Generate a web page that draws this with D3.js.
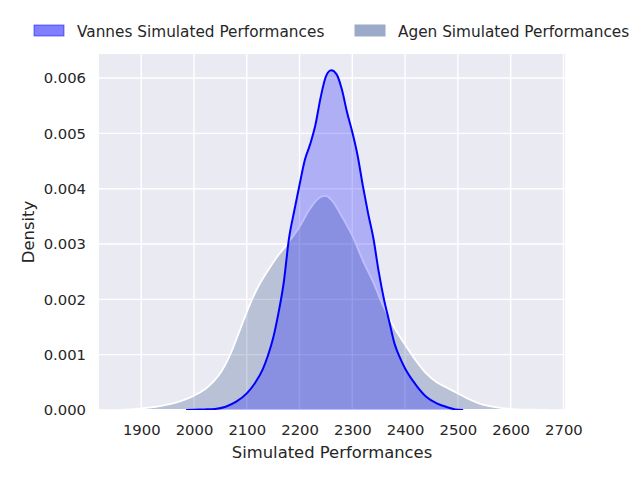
<!DOCTYPE html>
<html>
<head>
<meta charset="utf-8">
<script src="https://cdn.jsdelivr.net/npm/d3@7"></script>
<style>
  html, body { margin: 0; padding: 0; background: #ffffff; }
  svg { display: block; }
  text { font-family: "DejaVu Sans", sans-serif; fill: #262626; }
</style>
</head>
<body>
<script>
// ---- data ----
const agenX = [1860, 1880, 1900, 1920, 1940, 1960, 1980, 2000, 2020, 2030, 2040, 2050, 2060, 2070, 2080, 2090, 2100, 2110, 2120, 2140, 2160, 2180, 2200, 2220, 2240, 2250, 2260, 2280, 2300, 2320, 2340, 2360, 2380, 2400, 2420, 2440, 2460, 2480, 2500, 2520, 2540, 2560, 2580, 2600, 2640, 2670];
const agenY = [0, 0.00001, 0.00003, 0.00005, 0.00008, 0.00012, 0.00018, 0.00026, 0.00037, 0.00045, 0.00055, 0.00067, 0.00083, 0.00103, 0.00127, 0.00152, 0.00177, 0.002, 0.0022, 0.00252, 0.0028, 0.00304, 0.00331, 0.00364, 0.00385, 0.00387, 0.0038, 0.0035, 0.00315, 0.0027, 0.0023, 0.00185, 0.00148, 0.00118, 0.0009, 0.00066, 0.0005, 0.0004, 0.0003, 0.0002, 0.00012, 0.00007, 0.00004, 0.00002, 0.000005, 0];
const vannesX = [1985, 2000, 2020, 2040, 2060, 2080, 2100, 2115, 2130, 2140, 2150, 2160, 2170, 2180, 2190, 2200, 2210, 2220, 2230, 2240, 2250, 2260, 2270, 2280, 2290, 2300, 2310, 2320, 2330, 2340, 2350, 2360, 2370, 2380, 2390, 2400, 2420, 2440, 2460, 2480, 2495, 2510];
const vannesY = [0, 0.000005, 0.00001, 0.00002, 0.00006, 0.00015, 0.0003, 0.00048, 0.00073, 0.00098, 0.0013, 0.00175, 0.0023, 0.0031, 0.0036, 0.00407, 0.00452, 0.0048, 0.00515, 0.00565, 0.00603, 0.00614, 0.00607, 0.0058, 0.00538, 0.00502, 0.0046, 0.00405, 0.00355, 0.0031, 0.0025, 0.002, 0.0016, 0.0012, 0.00095, 0.00075, 0.00046, 0.00024, 0.00012, 0.00005, 0.00001, 0];
const xTicks = [1900, 2000, 2100, 2200, 2300, 2400, 2500, 2600, 2700];
const yTicks = [0, 0.001, 0.002, 0.003, 0.004, 0.005, 0.006];
const seriesNames = ["Vannes Simulated Performances", "Agen Simulated Performances"];
const xLabel = "Simulated Performances";
const yLabel = "Density";

// ---- layout ----
const W = 640, H = 480;
const L = 99, R = 565, T = 54, B = 410;

const svg = d3.select("body").append("svg").attr("width", W).attr("height", H);

const x = d3.scaleLinear().domain([1820, 2703]).range([L, R]);
const y = d3.scaleLinear().domain([0, 0.006434]).range([B, T]);

svg.append("rect").attr("x", L).attr("y", T).attr("width", R - L).attr("height", B - T).attr("fill", "#EAEAF2");

svg.append("defs").append("clipPath").attr("id", "clip")
  .append("rect").attr("x", L).attr("y", T).attr("width", R - L).attr("height", B - T);

// grid
const grid = svg.append("g");
grid.selectAll(".gx").data(xTicks).enter().append("line")
  .attr("x1", d => x(d)).attr("x2", d => x(d)).attr("y1", T).attr("y2", B)
  .attr("stroke", "#ffffff").attr("stroke-width", 1.4);
grid.selectAll(".gy").data(yTicks).enter().append("line")
  .attr("x1", L).attr("x2", R).attr("y1", d => y(d)).attr("y2", d => y(d))
  .attr("stroke", "#ffffff").attr("stroke-width", 1.4);

const plot = svg.append("g").attr("clip-path", "url(#clip)");

const agen = agenX.map((v, i) => [v, agenY[i]]);
const vannes = vannesX.map((v, i) => [v, vannesY[i]]);

const area = d3.area().x(d => x(d[0])).y0(y(0)).y1(d => y(d[1])).curve(d3.curveMonotoneX);
const line = d3.line().x(d => x(d[0])).y(d => y(d[1])).curve(d3.curveMonotoneX);

// Agen (drawn first)
plot.append("path").datum(agen).attr("d", area)
  .attr("fill", "rgb(55,85,145)").attr("fill-opacity", 0.27)
  .attr("stroke", "#ffffff").attr("stroke-width", 1.8);

// Vannes
plot.append("path").datum(vannes).attr("d", area)
  .attr("fill", "rgb(0,0,255)").attr("fill-opacity", 0.25).attr("stroke", "none");
plot.append("path").datum(vannes).attr("d", line)
  .attr("fill", "none").attr("stroke", "#0000ff").attr("stroke-width", 2);

// axes
const xAxis = d3.axisBottom(x).tickValues(xTicks).tickFormat(d3.format("d")).tickSize(0).tickPadding(0);
const gx = svg.append("g").attr("transform", `translate(0,${B})`).call(xAxis);
gx.select(".domain").remove();
gx.selectAll("text").attr("y", 20).attr("dy", "0.32em").style("font-size", "14.8px").attr("fill", "#262626");

const yAxis = d3.axisLeft(y).tickValues(yTicks).tickFormat(d3.format(".3f")).tickSize(0).tickPadding(0);
const gy = svg.append("g").attr("transform", `translate(${L},0)`).call(yAxis);
gy.select(".domain").remove();
gy.selectAll("text").attr("x", -13).attr("dy", "0.32em").style("font-size", "14.8px").attr("fill", "#262626");

svg.append("text").attr("x", (L + R) / 2).attr("y", 452).attr("dy", "0.35em")
  .attr("text-anchor", "middle").style("font-size", "16.4px").text(xLabel);
svg.append("text").attr("transform", `translate(28,${(T + B) / 2}) rotate(-90)`).attr("dy", "0.35em")
  .attr("text-anchor", "middle").style("font-size", "16.4px").text(yLabel);

// legend
const legend = [
  { name: seriesNames[0], fill: "rgba(0,0,255,0.5)", stroke: "rgba(0,0,255,0.5)", x: 34 },
  { name: seriesNames[1], fill: "rgb(155,170,200)", stroke: "rgb(155,170,200)", x: 355 }
];
const lg = svg.append("g");
legend.forEach(d => {
  lg.append("rect").attr("x", d.x).attr("y", 25).attr("width", 30).attr("height", 11)
    .attr("fill", d.fill).attr("stroke", d.stroke).attr("stroke-width", 1);
  lg.append("text").attr("x", d.x + 43).attr("y", 31.5).attr("dy", "0.35em")
    .style("font-size", "15.3px").text(d.name);
});
</script>
</body>
</html>
